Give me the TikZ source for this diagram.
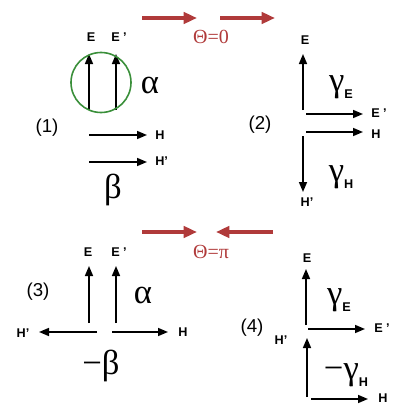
\documentclass[tikz,border=0pt]{standalone}
\usepackage{fontspec}
\setmainfont{Liberation Sans}
\newfontfamily\grk{Liberation Serif}
\usetikzlibrary{arrows.meta}
\definecolor{redarr}{HTML}{B03A3A}
\definecolor{greencirc}{HTML}{3A8F3A}
\tikzset{
  vec/.style={line width=1.2pt,-{Triangle[length=7.5pt,width=6pt]}},
  bigvec/.style={line width=3pt,draw=redarr,-{Triangle[length=10pt,width=8.5pt]}},
  lab/.style={font=\normalfont\bfseries\fontsize{9.5}{10}\selectfont,inner sep=0pt},
  num/.style={font=\fontsize{14}{16}\selectfont,inner sep=0pt},
  gr/.style={font=\grk\fontsize{26}{28}\selectfont,inner sep=0pt},
  theta/.style={font=\grk\fontsize{15}{17}\selectfont,text=redarr,inner sep=0pt}
}
\newcommand{\sublab}[1]{\raisebox{-0.45ex}{\normalfont\bfseries\fontsize{9.5}{10}\selectfont #1}}
\begin{document}
\begin{tikzpicture}[x=0.75pt,y=-0.75pt]
\useasboundingbox (0,0) rectangle (415,414);
% red arrows top
\draw[bigvec] (142,18) -- (197,18);
\draw[bigvec] (220,18) -- (275,18);
\node[theta] (t0) at (211,37) {Θ=0};
% red arrows bottom
\draw[bigvec] (142,232) -- (197,232);
\draw[bigvec] (273,232) -- (216,232);
\node[theta] (tpi) at (211,252) {Θ=π};

% panel 1
\node[num] (n1) at (47,128) {(1)};
\node[lab] (e1) at (91,37) {E};
\node[lab,anchor=west] (ep1) at (111,37) {E ’};
\draw[vec] (89,110) -- (89,54);
\draw[vec] (116,110) -- (116,54);
\draw[greencirc,line width=1.2pt] (101,82.5) circle (30);
\node[gr] (a1) at (150,85) {α};
\draw[vec] (89,135) -- (147,135);
\node[lab] (h1) at (160,135) {H};
\draw[vec] (89,162) -- (147,162);
\node[lab,anchor=west] (hp1) at (155,161) {H’};
\node[gr] (b1) at (113,190) {β};

% panel 2
\node[num] (n2) at (260,125) {(2)};
\node[lab] (e2) at (305,40) {E};
\draw[vec] (303,110) -- (303,54);
\node[gr] (g2e) at (341,87) {γ\sublab{E}};
\draw[vec] (306,114) -- (363,114);
\node[lab,anchor=west] (ep2) at (371,113) {E ’};
\draw[vec] (306,132) -- (363,132);
\node[lab] (h2) at (376,134) {H};
\draw[vec] (303,136) -- (303,192);
\node[lab] (hp2) at (307,202) {H’};
\node[gr] (g2h) at (341,177) {γ\sublab{H}};

% panel 3
\node[num] (n3) at (38,292) {(3)};
\node[lab] (e3) at (88,252) {E};
\node[lab,anchor=west] (ep3) at (111,252) {E ’};
\draw[vec] (89,323) -- (89,266);
\draw[vec] (116,323) -- (116,266);
\node[gr] (a3) at (143,295) {α};
\draw[vec] (97,332) -- (39,332);
\node[lab] (hp3) at (23,333) {H’};
\draw[vec] (112,332) -- (168,332);
\node[lab] (h3) at (183,332) {H};
\node[gr] (b3) at (101,366) {−β};

% panel 4
\node[num] (n4) at (252,328) {(4)};
\node[lab] (e4) at (307,258) {E};
\draw[vec] (306,325) -- (306,269);
\node[gr] (g4e) at (339,300) {γ\sublab{E}};
\draw[vec] (308,329) -- (365,329);
\node[lab,anchor=west] (ep4) at (374,328) {E ’};
\node[lab] (hp4) at (281,340) {H’};
\draw[vec] (307,397) -- (307,338);
\node[gr] (g4h) at (346,375) {−γ\sublab{H}};
\draw[vec] (311,399) -- (368,399);
\node[lab] (h4) at (383,398) {H};
\end{tikzpicture}
\end{document}
